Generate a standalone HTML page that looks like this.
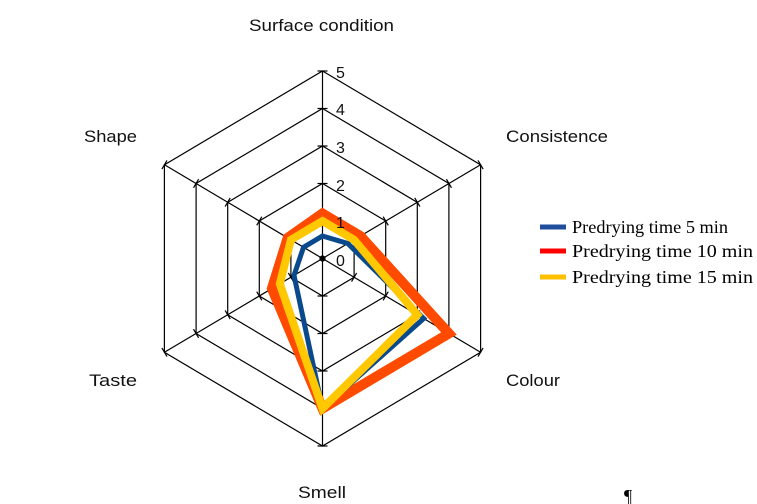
<!DOCTYPE html>
<html><head><meta charset="utf-8"><style>
body{margin:0;background:#fff;width:757px;height:504px;overflow:hidden}
svg{position:absolute;left:0;top:0}
.l{font-family:"Liberation Sans",sans-serif;font-size:17px;fill:#111}
.t{font-family:"Liberation Serif",serif;font-size:18px;fill:#000}
</style></head><body>
<svg id="s" width="757" height="504" xmlns="http://www.w3.org/2000/svg">
<g id="grid" stroke="#000" stroke-width="1.2" fill="none"></g>
<g id="data" fill="none" stroke-linejoin="miter"></g>
<text class="l" x="249" y="31" textLength="145" lengthAdjust="spacingAndGlyphs">Surface condition</text>
<text class="l" x="506" y="142" textLength="102" lengthAdjust="spacingAndGlyphs">Consistence</text>
<text class="l" x="506" y="386" textLength="54" lengthAdjust="spacingAndGlyphs">Colour</text>
<text class="l" x="298" y="498" textLength="48" lengthAdjust="spacingAndGlyphs">Smell</text>
<text class="l" x="89" y="386" textLength="48" lengthAdjust="spacingAndGlyphs">Taste</text>
<text class="l" x="84" y="142" textLength="53" lengthAdjust="spacingAndGlyphs">Shape</text>
<g class="l" fill="#333" style="font-size:16px">
<text x="336" y="78">5</text><text x="336" y="115">4</text><text x="336" y="153">3</text><text x="336" y="191">2</text><text x="336" y="228">1</text><text x="336" y="266">0</text>
</g>
<line x1="540" y1="227" x2="566" y2="227" stroke="#1f4e9c" stroke-width="5"/>
<line x1="540" y1="251" x2="566" y2="251" stroke="#ff0000" stroke-width="5"/>
<line x1="540" y1="277" x2="566" y2="277" stroke="#ffc000" stroke-width="5"/>
<text class="t" x="572" y="233" textLength="156" lengthAdjust="spacingAndGlyphs">Predrying time 5 min</text>
<text class="t" x="572" y="257" textLength="181" lengthAdjust="spacingAndGlyphs">Predrying time 10 min</text>
<text class="t" x="572" y="283" textLength="181" lengthAdjust="spacingAndGlyphs">Predrying time 15 min</text>
<text class="t" x="624" y="502" style="font-size:18px">¶</text>
</svg>
<script>
var cx=322.5,cy=258.5,u=37.5,hx=0.843;
var dirs=[[0,-1],[hx,-0.5],[hx,0.5],[0,1],[-hx,0.5],[-hx,-0.5]];
function pts(v){return dirs.map(function(d,i){var r=(typeof v=="number"?v:v[i])*u;return (cx+d[0]*r).toFixed(1)+","+(cy+d[1]*r).toFixed(1)}).join(" ");}
var ns="http://www.w3.org/2000/svg",g=document.getElementById("grid"),dg=document.getElementById("data");
function el(p,n,a){var e=document.createElementNS(ns,n);for(var k in a)e.setAttribute(k,a[k]);p.appendChild(e);return e;}
for(var r=1;r<=5;r++){el(g,"polygon",{points:pts(r)});}
dirs.forEach(function(d){el(g,"line",{x1:cx,y1:cy,x2:cx+d[0]*5*u,y2:cy+d[1]*5*u});
 for(var r=1;r<=5;r++){var px=cx+d[0]*r*u,py=cy+d[1]*r*u,nx=-d[1],ny=d[0],L=Math.hypot(nx,ny);nx/=L;ny/=L;
 el(g,"line",{x1:px-nx*5,y1:py-ny*5,x2:px+nx*5,y2:py+ny*5});}});
el(g,"circle",{cx:cx,cy:cy,r:2.5,fill:"#000"});
el(dg,"polygon",{points:pts([1.2,1.2,4,4,1.6,1.1]),stroke:"#ff4a00","stroke-width":10});
el(dg,"polygon",{points:pts([0.6,0.8,3.2,4,0.9,0.6]),stroke:"#0a4a8c","stroke-width":5});
el(dg,"polygon",{points:pts([1,1,3,4,1.35,1.0]),stroke:"#ffc800","stroke-width":8});
</script>
</body></html>
